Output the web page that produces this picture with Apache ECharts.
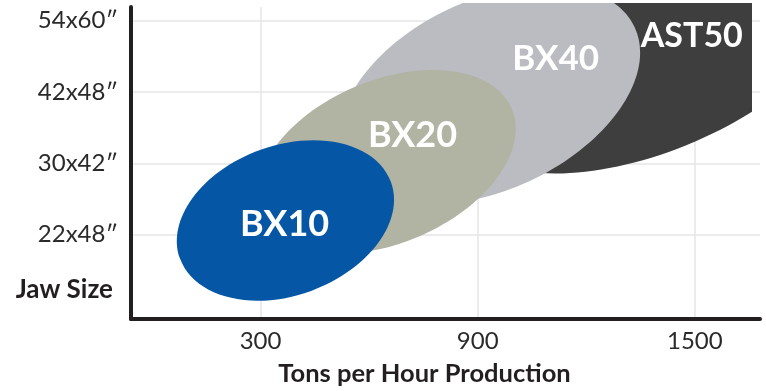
<!DOCTYPE html>
<html>
<head>
<meta charset="utf-8">
<script src="https://cdn.jsdelivr.net/npm/echarts@6/dist/echarts.min.js"></script>
<style>
  html, body { margin: 0; padding: 0; background: #fff; }
  #myChart { width: 766px; height: 391px; }
</style>
</head>
<body>
<div id="myChart"></div>
<script>
// crusher models, back to front
var models = ['AST50', 'BX40', 'BX20', 'BX10'];
// ellipse centre: tons per hour / jaw size index (1 = 22x48")
var centerTph = [1381, 933, 648, 369];
var centerJaw = [3.45, 2.96, 2.02, 1.20];
// half length along the long axis (tph units) and across it (jaw index units)
var halfTph = [553, 442, 376, 310];
var halfJaw = [1.29, 1.33, 1.14, 1.05];
// tilt of each ellipse, degrees
var tilt = [22, 25, 23, 20];

// axis ticks
var tphTicks = [300, 900, 1500];
var jawTicks = [1, 2, 3, 4];
var jawLabels = ['22x48\u2033', '30x42\u2033', '42x48\u2033', '54x60\u2033'];

// look of each blob
var fills = ['#3e3e3e', '#bbbcc1', '#b1b3a3', '#0557a5'];
var labelShift = [[40, -24], [66, -36], [26, -27], [-1, 4]];
var labelSize = [34, 35, 36, 36];

var data = [];
for (var i = 0; i < models.length; i++) {
  data.push([centerTph[i], centerJaw[i], halfTph[i], halfJaw[i], tilt[i]]);
}

var myChart = echarts.init(document.getElementById('myChart'));
var option = {
  animation: false,
  grid: { left: 131, right: 6, top: 7, bottom: 72, outerBoundsMode: 'none', containLabel: false },
  xAxis: {
    type: 'value',
    min: -58,
    max: 1680,
    name: 'Tons per Hour Production',
    nameLocation: 'middle',
    nameGap: 42,
    nameTextStyle: {
      fontFamily: 'Lato', fontWeight: 'bold', fontSize: 25.5, color: '#231f20',
      padding: [0, 42, 0, 0]
    },
    axisLine: { show: true, onZero: false, lineStyle: { color: '#231f20', width: 4 } },
    axisTick: { show: false, customValues: tphTicks },
    axisLabel: {
      customValues: tphTicks,
      margin: 10,
      fontFamily: 'Lato', fontSize: 24, color: '#2a2a2a',
      formatter: function (v) { return String(v); }
    },
    splitLine: { show: true, lineStyle: { color: '#e6e6e6', width: 1.5 } }
  },
  yAxis: {
    type: 'value',
    min: -0.18,
    max: 4.19,
    name: 'Jaw Size',
    nameLocation: 'start',
    nameGap: -29,
    nameTextStyle: {
      fontFamily: 'Lato', fontWeight: 'bold', fontSize: 26, color: '#231f20',
      align: 'right', verticalAlign: 'middle', padding: [0, 18, 0, 0]
    },
    axisLine: { show: true, onZero: false, lineStyle: { color: '#231f20', width: 4 } },
    axisTick: { show: false, customValues: jawTicks },
    axisLabel: {
      customValues: jawTicks,
      margin: 13,
      fontFamily: 'Lato', fontSize: 24, color: '#2a2a2a',
      formatter: function (v) {
        var k = jawTicks.indexOf(Math.round(v));
        return k >= 0 ? jawLabels[k] : '';
      }
    },
    splitLine: { show: true, lineStyle: { color: '#e6e6e6', width: 1.5 } }
  },
  series: [{
    type: 'custom',
    data: data,
    encode: { x: 0, y: 1 },
    renderItem: function (params, api) {
      var i = params.dataIndex;
      var c = api.coord([api.value(0), api.value(1)]);
      var rx = api.size([api.value(2), 0])[0];
      var ry = api.size([0, api.value(3)])[1];
      var cs = params.coordSys;
      return {
        type: 'group',
        // blobs run a little above the axis top, and stop short of the right end
        clipPath: {
          type: 'rect',
          shape: { x: cs.x, y: cs.y - 4, width: cs.width - 8, height: cs.height + 4 }
        },
        children: [{
          type: 'ellipse',
          x: c[0],
          y: c[1],
          rotation: api.value(4) * Math.PI / 180,
          shape: { cx: 0, cy: 0, rx: rx, ry: ry },
          style: { fill: fills[i] }
        }, {
          type: 'text',
          z2: 100,
          x: c[0] + labelShift[i][0],
          y: c[1] + labelShift[i][1],
          style: {
            text: models[i],
            fill: '#ffffff',
            font: 'bold ' + labelSize[i] + 'px Lato',
            align: 'center',
            verticalAlign: 'middle'
          }
        }]
      };
    }
  }]
};
myChart.setOption(option);
</script>
</body>
</html>
